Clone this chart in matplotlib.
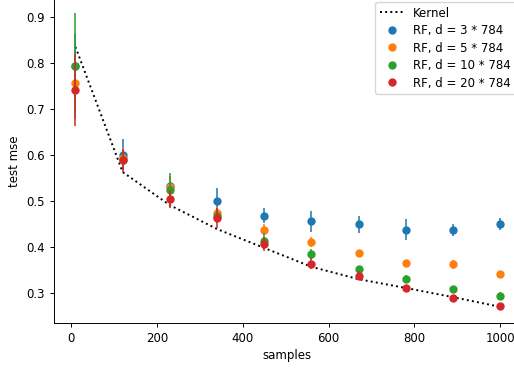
import matplotlib
matplotlib.use("Agg")
import matplotlib.pyplot as plt
import numpy as np

samples = [10, 120, 230, 340, 450, 560, 670, 780, 890, 1000]
kernel = [0.835, 0.563, 0.491, 0.439, 0.398, 0.357, 0.330, 0.311, 0.291, 0.270]

labels = ["RF, d = 3 * 784", "RF, d = 5 * 784", "RF, d = 10 * 784", "RF, d = 20 * 784"]
colors = ["#1f77b4", "#ff7f0e", "#2ca02c", "#d62728"]
means = [
    [0.793, 0.601, 0.533, 0.501, 0.468, 0.456, 0.449, 0.438, 0.437, 0.450],
    [0.757, 0.594, 0.530, 0.473, 0.438, 0.411, 0.386, 0.365, 0.362, 0.341],
    [0.793, 0.590, 0.524, 0.468, 0.413, 0.385, 0.352, 0.331, 0.308, 0.294],
    [0.741, 0.589, 0.504, 0.463, 0.406, 0.364, 0.338, 0.311, 0.290, 0.271],
]
errs = [
    [0.070, 0.033, 0.020, 0.028, 0.016, 0.023, 0.019, 0.022, 0.012, 0.013],
    [0.060, 0.022, 0.025, 0.015, 0.012, 0.010, 0.006, 0.005, 0.010, 0.004],
    [0.115, 0.020, 0.036, 0.015, 0.018, 0.010, 0.007, 0.009, 0.007, 0.008],
    [0.078, 0.025, 0.020, 0.022, 0.015, 0.012, 0.010, 0.005, 0.005, 0.004],
]

fig = plt.figure(figsize=(5.14, 3.69), dpi=100)
ax = fig.add_axes([54/514, 46/369, 1 - 54/514 + 0.01, 1 - 46/369])

fs = 8.5
ax.plot(samples, kernel, color="black", linestyle=":", linewidth=1.4, label="Kernel")
for m, e, c, lab in zip(means, errs, colors, labels):
    ax.errorbar(samples, m, yerr=e, fmt="none", ecolor=c, elinewidth=1.4, alpha=0.8)
    ax.plot(samples, m, "o", color=c, markersize=5.0, label=lab, linestyle="none")

ax.set_xlim(-40, (519 - 71) / 0.429)
ax.set_ylim(0.3 - 30 / 460, 0.9 + 17 / 460)
ax.set_xticks([0, 200, 400, 600, 800, 1000])
ax.set_yticks([0.3, 0.4, 0.5, 0.6, 0.7, 0.8, 0.9])
ax.tick_params(labelsize=fs, length=3.1, width=0.7)
for s in ["top", "right"]:
    ax.spines[s].set_visible(False)
for s in ["left", "bottom"]:
    ax.spines[s].set_linewidth(0.7)
ax.set_xlabel("samples", fontsize=fs, labelpad=3)
ax.set_ylabel("test mse", fontsize=fs)
ax.legend(fontsize=fs, loc="upper right", bbox_to_anchor=(1.003, 0.995), bbox_transform=fig.transFigure,
          borderaxespad=0.0, framealpha=0.8, labelspacing=0.38)

fig.savefig("out.png", dpi=100)
